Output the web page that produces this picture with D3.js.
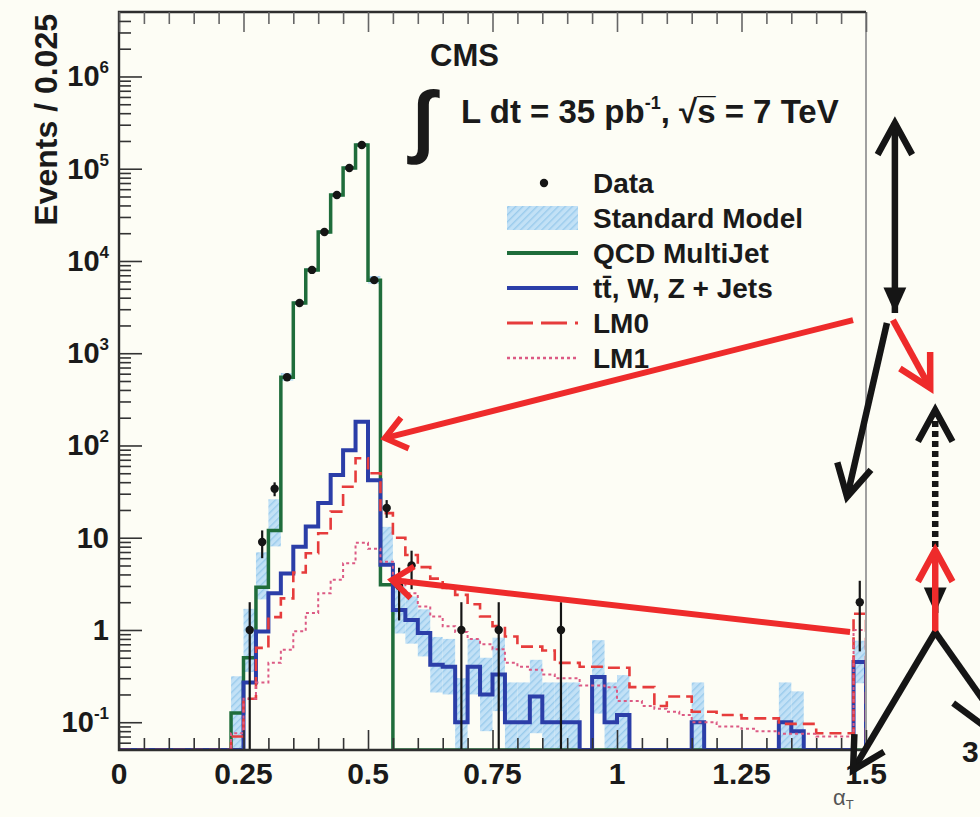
<!DOCTYPE html>
<html>
<head>
<meta charset="utf-8">
<script src="https://cdn.jsdelivr.net/npm/d3@7"></script>
<style>
  body { margin: 0; background: #fdfdf5; }
  svg { display: block; }
  text { font-family: "Liberation Sans", Arial, Helvetica, sans-serif; }
</style>
</head>
<body>
<svg id="chart"></svg>
<script>
// alpha_T histograms, 60 bins of 0.025 from 0 to 1.5 (events per bin)
const binWidth = 0.025;

const qcd = [
  0, 0, 0, 0, 0, 0, 0, 0, 0, 0.126,
  0.5, 2.9, 12, 550, 3500, 8000, 20600, 52000, 102000, 181000,
  6200, 3.1, 0, 0, 0, 0, 0, 0, 0, 0,
  0, 0, 0, 0, 0, 0, 0, 0, 0, 0,
  0, 0, 0, 0, 0, 0, 0, 0, 0, 0,
  0, 0, 0, 0, 0, 0, 0, 0, 0, 0
];

const ewk = [
  0, 0, 0, 0, 0, 0, 0, 0, 0, 0,
  0.27, 0.96, 2.5, 4.1, 8.0, 13.2, 23.8, 47.9, 89, 181,
  42, 5.1, 1.65, 1.28, 0.93, 0.42, 0.40, 0.10, 0.40, 0.20,
  0.33, 0.10, 0.10, 0.19, 0.10, 0.10, 0.10, 0, 0.31, 0.10,
  0.12, 0, 0, 0, 0, 0, 0.10, 0, 0, 0,
  0, 0, 0, 0.10, 0.08, 0, 0, 0, 0, 0.45
];

const lm0 = [
  0, 0, 0, 0, 0, 0, 0, 0, 0, 0.07,
  0.18, 0.64, 1.38, 2.2, 4.2, 6.8, 11.2, 19.2, 35.7, 72.6,
  50, 18.5, 10, 6.5, 4.8, 3.6, 2.85, 2.4, 1.9, 1.4,
  1.1, 0.85, 0.66, 0.66, 0.6, 0.44, 0.44, 0.4, 0.4, 0.39,
  0.39, 0.24, 0.24, 0.15, 0.19, 0.19, 0.13, 0.13, 0.12, 0.12,
  0.11, 0.11, 0.11, 0.096, 0.096, 0.096, 0.076, 0.076, 0.076, 1.5
];

const lm1 = [
  0, 0, 0, 0, 0, 0, 0, 0, 0, 0.076,
  0.18, 0.27, 0.44, 0.61, 0.97, 1.53, 2.5, 3.5, 5.3, 8.8,
  7.6, 5.5, 3.5, 2.5, 1.8, 1.4, 1.1, 0.95, 0.8, 0.7,
  0.62, 0.44, 0.4, 0.37, 0.33, 0.3, 0.3, 0.25, 0.25, 0.24,
  0.17, 0.17, 0.15, 0.14, 0.13, 0.12, 0.1, 0.1, 0.09, 0.09,
  0.085, 0.08, 0.08, 0.075, 0.075, 0.075, 0.07, 0.07, 0.07, 1.0
];

// SM uncertainty band: band spans SM / f .. SM * f
const smBand = [
  1, 1, 1, 1, 1, 1, 1, 1, 1, 2.5,
  2.2, 1.8, 1.8, 1.1, 1.05, 1.05, 1.05, 1.05, 1.05, 1.05,
  1.1, 1.6, 1.8, 1.8, 1.8, 2, 2, 3, 2, 2.5,
  2.5, 2.7, 2.7, 2.5, 2.7, 2.7, 2.7, 2.7, 2.5, 2.7,
  2.7, 2.7, 2.7, 2.7, 2.7, 2.7, 2.7, 2.7, 2.7, 2.7,
  2.7, 2.7, 2.7, 2.7, 2.7, 2.7, 2.7, 2.7, 2.7, 1.7
];

const dataCenters = [0.2625, 0.2875, 0.3125, 0.3375, 0.3625, 0.3875, 0.4125, 0.4375, 0.4625,
  0.4875, 0.5125, 0.5375, 0.5625, 0.5875, 0.6875, 0.7625, 0.8875, 1.4875];
const dataCounts = [1, 9, 34, 550, 3500, 8000, 20600, 52000, 102000,
  181000, 6200, 21, 3, 5, 1, 1, 1, 2];

const xTicks = [0, 0.25, 0.5, 0.75, 1, 1.25, 1.5];
const xTickLabels = ["0", "0.25", "0.5", "0.75", "1", "1.25", "1.5"];
const yTicks = [0.1, 1, 10, 100, 1e3, 1e4, 1e5, 1e6];
const yTickLabels = [["10", "-1"], ["1", ""], ["10", ""], ["10", "2"], ["10", "3"], ["10", "4"], ["10", "5"], ["10", "6"]];

const legendLabels = ["Data", "Standard Model", "QCD MultiJet", "tt\u0304, W, Z + Jets", "LM0", "LM1"];

// hand-drawn callouts, in (alpha_T, events) coordinates
const redCallouts = [
  [[1.474, 2290], [0.534, 120]],
  [[1.468, 0.95], [0.548, 3.48]]
];
const sketchArrows = [
  { from: [1.558, 3.13e5], to: [1.558, 2730], ink: "black", startHead: "open", endHead: "filled" },
  { from: [1.542, 2130], to: [1.462, 27.7], ink: "black", endHead: "open" },
  { from: [1.554, 2290], to: [1.629, 420], ink: "red", endHead: "open" },
  { from: [1.639, 7.93], to: [1.639, 243], ink: "black", endHead: "open", dotted: true },
  { from: [1.639, 2.71], to: [1.639, 1.53], ink: "black", endHead: "filled" },
  { from: [1.639, 0.95], to: [1.639, 7.36], ink: "red", endHead: "open" },
  { from: [1.639, 0.95], to: [1.474, 0.0303], ink: "black", endHead: "open" },
  { from: [1.639, 0.95], to: [1.749, 0.136], ink: "black" },
  { from: [1.675, 0.161], to: [1.74, 0.0887], ink: "black" }
];

const W = 980, H = 817;
const margin = { top: 12, right: 114, bottom: 67, left: 119 };
const width = W - margin.left - margin.right;
const height = H - margin.top - margin.bottom;

const colors = { qcd: "#1f6d3b", ewk: "#2b3ea8", lm0: "#e63c3c", lm1: "#dc5a84", black: "#151515", red: "#ee2b2b" };

const svg = d3.select("#chart").attr("width", W).attr("height", H);
svg.append("rect").attr("width", W).attr("height", H).attr("fill", "#fdfdf5");

const defs = svg.append("defs");
defs.append("clipPath").attr("id", "plotClip")
  .append("rect").attr("width", width).attr("height", height);
const hatch = defs.append("pattern").attr("id", "smHatch")
  .attr("patternUnits", "userSpaceOnUse").attr("width", 5).attr("height", 5)
  .attr("patternTransform", "rotate(45)");
hatch.append("rect").attr("width", 5).attr("height", 5).attr("fill", "#c2e1f6");
hatch.append("rect").attr("width", 1.4).attr("height", 5).attr("fill", "#9acbec");

const g = svg.append("g").attr("transform", `translate(${margin.left},${margin.top})`);

const x = d3.scaleLinear().domain([0, 1.5]).range([0, width]);
const y = d3.scaleLog().domain([0.05, 5e6]).range([height, 0]);
const floorVal = y.domain()[0];

function steps(values) {
  const pts = [[0, floorVal]];
  values.forEach((v, i) => {
    const h = v > 0 ? v : floorVal;
    pts.push([i * binWidth, h], [(i + 1) * binWidth, h]);
  });
  pts.push([values.length * binWidth, floorVal]);
  return pts;
}
const line = d3.line().x(d => x(d[0])).y(d => y(d[1]));

const plot = g.append("g").attr("clip-path", "url(#plotClip)");

// SM band
const sm = qcd.map((v, i) => v + ewk[i]);
plot.selectAll("rect.band")
  .data(sm.map((v, i) => ({ v, i })).filter(d => d.v > 0))
  .join("rect")
  .attr("class", "band")
  .attr("x", d => x(d.i * binWidth))
  .attr("width", x(binWidth) - x(0))
  .attr("y", d => y(d.v * smBand[d.i]))
  .attr("height", d => y(Math.max(d.v / smBand[d.i], floorVal * 0.5)) - y(d.v * smBand[d.i]))
  .attr("fill", "url(#smHatch)");

plot.append("path").attr("d", line(steps(qcd)))
  .attr("fill", "none").attr("stroke", colors.qcd).attr("stroke-width", 3.5);
plot.append("path").attr("d", line(steps(ewk)))
  .attr("fill", "none").attr("stroke", colors.ewk).attr("stroke-width", 4);
plot.append("path").attr("d", line(steps(lm0)))
  .attr("fill", "none").attr("stroke", colors.lm0).attr("stroke-width", 2.6)
  .attr("stroke-dasharray", "12 6");
plot.append("path").attr("d", line(steps(lm1)))
  .attr("fill", "none").attr("stroke", colors.lm1).attr("stroke-width", 2)
  .attr("stroke-dasharray", "3 3");

// data with Poisson errors
const data = dataCenters.map((c, i) => ({ c, n: dataCounts[i] }));
plot.selectAll("line.err").data(data).join("line")
  .attr("class", "err")
  .attr("x1", d => x(d.c)).attr("x2", d => x(d.c))
  .attr("y1", d => y(d.n + Math.sqrt(d.n)))
  .attr("y2", d => y(Math.max(d.n - Math.sqrt(d.n), floorVal * 0.5)))
  .attr("stroke", colors.black).attr("stroke-width", 2.2);
plot.selectAll("circle.pt").data(data).join("circle")
  .attr("class", "pt")
  .attr("cx", d => x(d.c)).attr("cy", d => y(d.n)).attr("r", 4.2)
  .attr("fill", colors.black);

// frame
g.append("line").attr("x1", width).attr("x2", width).attr("y1", 0).attr("y2", height)
  .attr("stroke", "#a0a0a0").attr("stroke-width", 2);
g.append("path").attr("d", `M${width},0H0V${height}H${width}`)
  .attr("fill", "none").attr("stroke", "#2e2e2e").attr("stroke-width", 2.4);

// ticks (inside, ROOT style)
const xMinor = d3.range(1, 30).map(k => k * 0.05).filter(v => Math.abs(v / 0.25 - Math.round(v / 0.25)) > 1e-6);
const yMinor = [];
for (let e = -2; e <= 6; e++) {
  for (let k = 2; k <= 9; k++) {
    const v = k * Math.pow(10, e);
    if (v > y.domain()[0] && v < y.domain()[1]) yMinor.push(v);
  }
}
function tickSet(axis, values, size, ty, color) {
  const a = g.append("g").attr("transform", `translate(0,${ty})`)
    .call(axis.tickValues(values).tickSize(size).tickFormat(""));
  a.select(".domain").remove();
  a.selectAll("line").attr("stroke", color).attr("stroke-width", 1.6);
}
tickSet(d3.axisBottom(x), xTicks, -20, height, "#333");
tickSet(d3.axisBottom(x), xMinor, -12, height, "#333");
tickSet(d3.axisTop(x), xTicks, -20, 0, "#666");
tickSet(d3.axisTop(x), xMinor, -12, 0, "#666");
tickSet(d3.axisLeft(y), yTicks, -23, 0, "#333");
tickSet(d3.axisLeft(y), yMinor, -12, 0, "#333");

// tick labels
g.selectAll("text.xl").data(xTicks).join("text")
  .attr("class", "xl")
  .attr("x", d => x(d)).attr("y", height + 34)
  .attr("text-anchor", "middle").attr("font-size", 30).attr("font-weight", "bold")
  .attr("fill", "#1a1a1a")
  .text((d, i) => xTickLabels[i]);

const yl = g.selectAll("text.yl").data(yTicks).join("text")
  .attr("class", "yl")
  .attr("x", -10).attr("y", d => y(d) + 10)
  .attr("text-anchor", "end").attr("font-size", 29).attr("font-weight", "bold")
  .attr("fill", "#1a1a1a");
yl.append("tspan").text((d, i) => yTickLabels[i][0]);
yl.append("tspan").attr("dy", -13).attr("font-size", 17).text((d, i) => yTickLabels[i][1]);

// axis titles
svg.append("text")
  .attr("transform", "translate(57,14) rotate(-90)")
  .attr("text-anchor", "end").attr("font-size", 32).attr("font-weight", "bold")
  .attr("fill", "#1a1a1a")
  .text("Events / 0.025");
const at = svg.append("text").attr("x", 833).attr("y", 805)
  .attr("font-family", "DejaVu Serif").attr("font-size", 22).attr("fill", "#555");
at.append("tspan").text("\u03b1");
at.append("tspan").attr("dy", 4).attr("font-size", 13).text("T");

// CMS labels
svg.append("text").attr("x", 430).attr("y", 66)
  .attr("font-size", 31).attr("font-weight", "bold").attr("fill", "#1a1a1a").text("CMS");
svg.append("text").attr("x", 412).attr("y", 147)
  .attr("font-family", "DejaVu Sans").attr("font-weight", "bold")
  .attr("font-size", 80).attr("fill", "#1a1a1a").text("\u222b");
const lumi = svg.append("text").attr("x", 461).attr("y", 123)
  .attr("font-size", 33).attr("font-weight", "bold").attr("fill", "#1a1a1a");
lumi.append("tspan").text("L dt = 35 pb");
lumi.append("tspan").attr("dy", -14).attr("font-size", 18).text("-1");
lumi.append("tspan").attr("dy", 14).text(", \u221as\u0305 = 7 TeV");

// legend
const legend = svg.append("g");
const legendStyles = [null, null,
  { c: colors.qcd, w: 4, dash: null },
  { c: colors.ewk, w: 4, dash: null },
  { c: colors.lm0, w: 3, dash: "26 8" },
  { c: colors.lm1, w: 2.4, dash: "3 3" }];
legendLabels.forEach((label, i) => {
  const cy = 183 + i * 35;
  if (i === 0) {
    legend.append("circle").attr("cx", 544).attr("cy", cy).attr("r", 4.2).attr("fill", colors.black);
  } else if (i === 1) {
    legend.append("rect").attr("x", 507).attr("y", cy - 12).attr("width", 71).attr("height", 24)
      .attr("fill", "url(#smHatch)");
  } else {
    const s = legendStyles[i];
    legend.append("line").attr("x1", 507).attr("x2", 578).attr("y1", cy).attr("y2", cy)
      .attr("stroke", s.c).attr("stroke-width", s.w).attr("stroke-dasharray", s.dash);
  }
  legend.append("text").attr("x", 593).attr("y", cy + 10)
    .attr("font-size", 28).attr("font-weight", "bold").attr("fill", "#1a1a1a")
    .text(label);
});

// callout arrows
const ann = g.append("g");
function head(p0, p1, len, half) {
  const a = Math.atan2(p1[1] - p0[1], p1[0] - p0[0]);
  return [
    [p1[0] - len * Math.cos(a - half), p1[1] - len * Math.sin(a - half)],
    p1,
    [p1[0] - len * Math.cos(a + half), p1[1] - len * Math.sin(a + half)]
  ];
}
function drawArrow(from, to, color, opts) {
  const p0 = [x(from[0]), y(from[1])], p1 = [x(to[0]), y(to[1])];
  ann.append("path").attr("d", d3.line()([p0, p1]))
    .attr("stroke", color).attr("stroke-width", opts.w).attr("fill", "none")
    .attr("stroke-dasharray", opts.dotted ? "6 4" : null);
  const heads = [];
  if (opts.endHead) heads.push([p0, p1, opts.endHead]);
  if (opts.startHead) heads.push([p1, p0, opts.startHead]);
  heads.forEach(([a, b, kind]) => {
    if (kind === "open") {
      ann.append("path").attr("d", d3.line()(head(a, b, opts.len, opts.half)))
        .attr("stroke", color).attr("stroke-width", opts.w).attr("fill", "none")
        .attr("stroke-linejoin", "miter");
    } else {
      ann.append("path").attr("d", d3.line()(head(a, b, 28, 0.42)) + "Z").attr("fill", color);
    }
  });
}
redCallouts.forEach(([from, to]) => drawArrow(from, to, colors.red, { w: 6, endHead: "open", len: 26, half: 0.66 }));
sketchArrows.forEach(s => drawArrow(s.from, s.to, s.ink === "red" ? colors.red : colors.black,
  { w: 6.5, endHead: s.endHead, startHead: s.startHead, dotted: s.dotted, len: 36, half: 0.5 }));

svg.append("text").attr("x", 962).attr("y", 762)
  .attr("font-size", 30).attr("font-weight", "bold").attr("fill", "#1a1a1a").text("3");
</script>
</body>
</html>
